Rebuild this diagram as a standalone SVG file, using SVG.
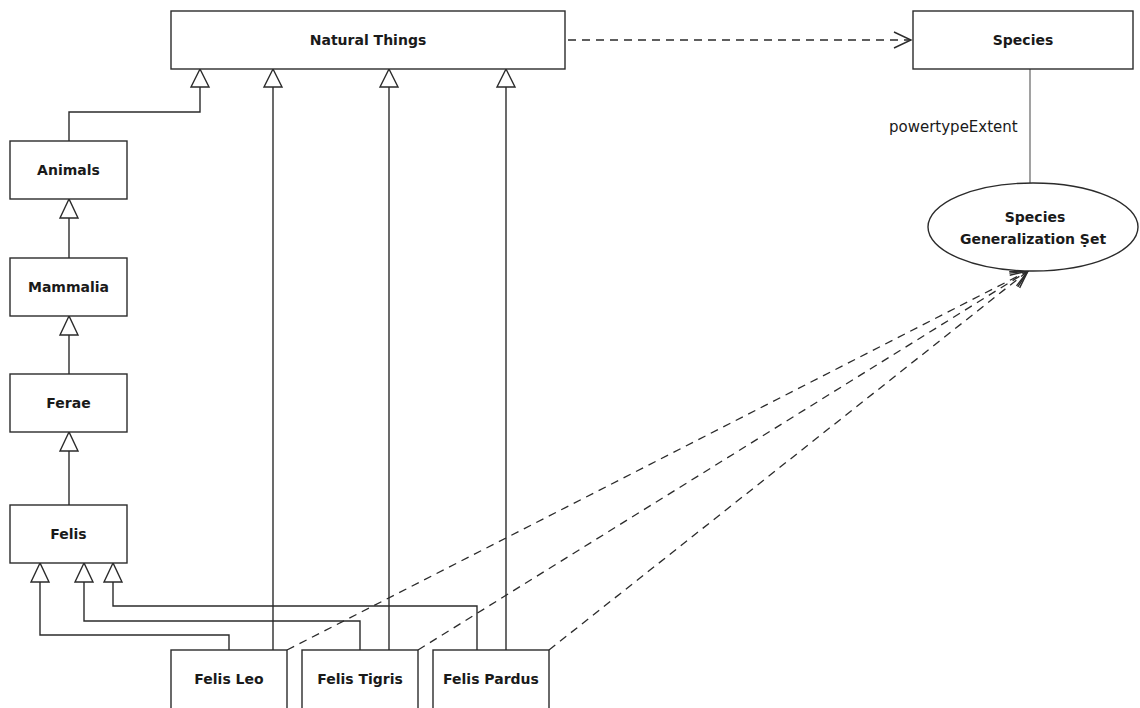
<svg xmlns="http://www.w3.org/2000/svg" width="1140" height="708" viewBox="0 0 1140 708">
<style>
.box{fill:#fff;stroke:#2b2b2b;stroke-width:1.4}
.lbl{font-family:"DejaVu Sans",sans-serif;font-weight:bold;font-size:14px;fill:#1a1a1a;text-anchor:middle}
.reg{font-family:"DejaVu Sans",sans-serif;font-size:15px;fill:#1a1a1a}
.ln{fill:none;stroke:#2b2b2b;stroke-width:1.4}
.dash{fill:none;stroke:#2b2b2b;stroke-width:1.3;stroke-dasharray:8 6}
.tri{fill:#fff;stroke:#2b2b2b;stroke-width:1.4}
</style>
<defs>
<marker id="open" viewBox="0 0 20 20" refX="18" refY="10" markerWidth="20" markerHeight="20" markerUnits="userSpaceOnUse" orient="auto">
<path d="M1,2 L18,10 L1,18" fill="none" stroke="#2b2b2b" stroke-width="1.4" stroke-dasharray="none"/>
</marker>
</defs>
<rect width="1140" height="708" fill="#fff"/>

<g id="connectors">
<polyline class="ln" points="69,141 69,112 200,112 200,87"/>
<polygon class="tri" points="200,69 191,87 209,87"/>
<line class="ln" x1="273" y1="87" x2="273" y2="650"/>
<polygon class="tri" points="273,69 264,87 282,87"/>
<line class="ln" x1="389" y1="87" x2="389" y2="650"/>
<polygon class="tri" points="389,69 380,87 398,87"/>
<line class="ln" x1="506" y1="87" x2="506" y2="650"/>
<polygon class="tri" points="506,69 497,87 515,87"/>
<line class="ln" x1="69" y1="218" x2="69" y2="258"/>
<polygon class="tri" points="69,199 60,218 78,218"/>
<line class="ln" x1="69" y1="335" x2="69" y2="374"/>
<polygon class="tri" points="69,316 60,335 78,335"/>
<line class="ln" x1="69" y1="451" x2="69" y2="505"/>
<polygon class="tri" points="69,432 60,451 78,451"/>
<polyline class="ln" points="40,582 40,635 229,635 229,650"/>
<polygon class="tri" points="40,563 31,582 49,582"/>
<polyline class="ln" points="84,582 84,621 360,621 360,650"/>
<polygon class="tri" points="84,563 75,582 93,582"/>
<polyline class="ln" points="113,582 113,606 477,606 477,650"/>
<polygon class="tri" points="113,563 104,582 122,582"/>
<line class="dash" x1="568" y1="40" x2="911" y2="40" marker-end="url(#open)"/>
<line x1="1030" y1="69" x2="1030" y2="183" stroke="#555" stroke-width="1.1"/>
<text class="reg" x="889" y="132">powertypeExtent</text>
<line class="dash" x1="287" y1="650" x2="1028" y2="271" marker-end="url(#open)"/>
<line class="dash" x1="418" y1="650" x2="1028" y2="271" marker-end="url(#open)"/>
<line class="dash" x1="549" y1="650" x2="1028" y2="271" marker-end="url(#open)"/>
</g>

<g id="natural-things">
<rect class="box" x="171" y="11" width="394" height="58"/>
<text class="lbl" x="368" y="45">Natural Things</text>
</g>
<g id="species">
<rect class="box" x="913" y="11" width="220" height="58"/>
<text class="lbl" x="1023" y="45">Species</text>
</g>
<g id="species-generalization-set">
<ellipse class="box" cx="1033" cy="227" rx="105" ry="44"/>
<text class="lbl" x="1035" y="222">Species</text>
<text class="lbl" x="1033" y="244">Generalization Ṣet</text>
</g>
<g id="animals">
<rect class="box" x="10" y="141" width="117" height="58"/>
<text class="lbl" x="68.5" y="175">Animals</text>
</g>
<g id="mammalia">
<rect class="box" x="10" y="258" width="117" height="58"/>
<text class="lbl" x="68.5" y="292">Mammalia</text>
</g>
<g id="ferae">
<rect class="box" x="10" y="374" width="117" height="58"/>
<text class="lbl" x="68.5" y="408">Ferae</text>
</g>
<g id="felis">
<rect class="box" x="10" y="505" width="117" height="58"/>
<text class="lbl" x="68.5" y="539">Felis</text>
</g>
<g id="felis-leo">
<rect class="box" x="171" y="650" width="116" height="70"/>
<text class="lbl" x="229" y="684">Felis Leo</text>
</g>
<g id="felis-tigris">
<rect class="box" x="302" y="650" width="116" height="70"/>
<text class="lbl" x="360" y="684">Felis Tigris</text>
</g>
<g id="felis-pardus">
<rect class="box" x="433" y="650" width="116" height="70"/>
<text class="lbl" x="491" y="684">Felis Pardus</text>
</g>
</svg>
